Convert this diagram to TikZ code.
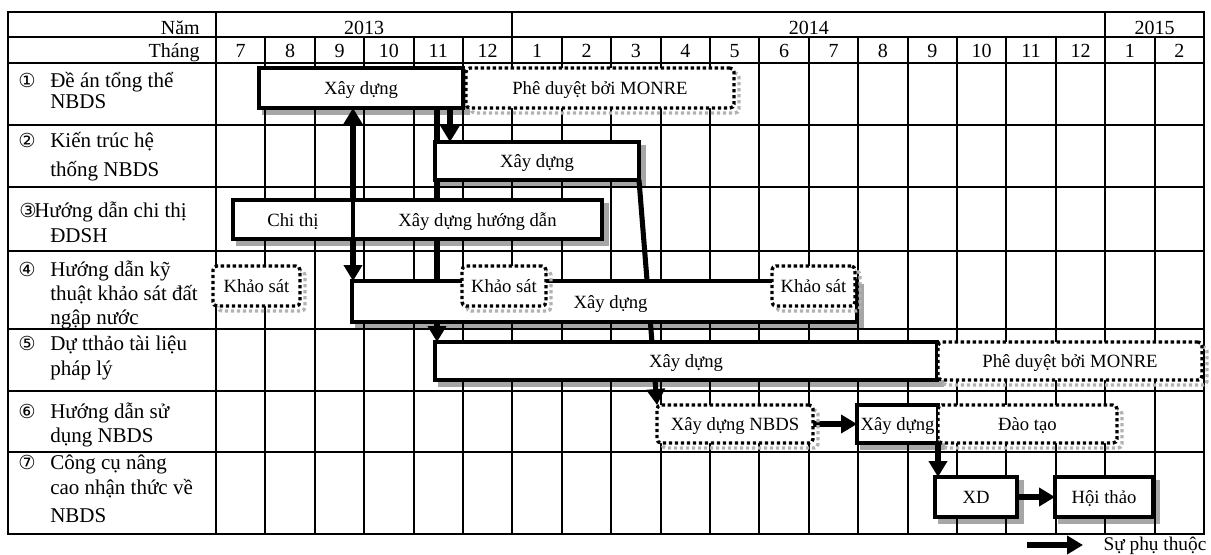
\documentclass[tikz,border=0pt]{standalone}
\usepackage{fontspec}
\setmainfont{Liberation Serif}
\newfontfamily\circfont{DejaVu Sans}
\usetikzlibrary{arrows.meta,shadows}
\def\pxu{*0.75pt}
\pgfdeclarelayer{shadowlayer}
\pgfdeclarelayer{gridlayer}
\pgfdeclarelayer{arrowlayer}
\pgfsetlayers{shadowlayer,gridlayer,arrowlayer,main}
\tikzset{
  gridline/.style={line width=1.5pt, draw=black},
  hdr/.style={font=\fontsize{15}{18}\selectfont, inner sep=0pt},
  lbl/.style={font=\fontsize{15.75}{19}\selectfont, inner sep=0pt, anchor=base west},
  circ/.style={font=\circfont\fontsize{14.5}{16}\selectfont, inner sep=0pt, anchor=base},
  barbase/.style={inner sep=0pt, outer sep=0pt, font=\fontsize{14}{16}\selectfont,
    text height=12.5pt, text depth=2.7pt, fill=white},
  solidbar/.style={barbase, draw=black, line width=2.5pt},
  dotbar/.style={barbase, draw=black, line width=2.5pt, dash pattern=on 2.5pt off 2pt,
    rounded corners=3pt,
    general shadow={draw=gray!60, fill=none, line width=2.5pt, dash pattern=on 2.5pt off 2pt,
      shadow xshift=3.75pt, shadow yshift=-3.75pt}},
  solidshadow/.style={fill=gray!70, draw=gray!70, line width=2.5pt},
  dep/.style={line width=3.8pt, -{Triangle[length=12pt,width=13.5pt]}},
  dep2/.style={line width=3.8pt, {Triangle[length=12pt,width=13.5pt]}-{Triangle[length=12pt,width=13.5pt]}},
  lgd/.style={font=\fontsize{14.5}{17}\selectfont, inner sep=1pt, fill=white},
}
\begin{document}
\begin{tikzpicture}[x=0.75pt,y=-0.75pt]
\useasboundingbox (0,0) rectangle (1211,554);
% ---------- table ----------
\begin{pgfonlayer}{gridlayer}
  \draw[gridline] (8,12) rectangle (1204,534);
  \foreach \yy in {37,63,125,187,251,329,391,452} \draw[gridline] (8,\yy) -- (1204,\yy);
  \draw[gridline] (216,12) -- (216,534);
  \foreach \i in {1,...,19} \draw[gridline] ({216+49.4*\i},37) -- ({216+49.4*\i},534);
  \draw[gridline] (512.4,12) -- (512.4,37);
  \draw[gridline] (1105.2,12) -- (1105.2,37);
\end{pgfonlayer}
% ---------- header ----------
\node[hdr, anchor=base east] (hnam) at (200,34) {Năm};
\node[hdr, anchor=base east] (hthang) at (200,57) {Tháng};
\node[hdr, anchor=base] (y13) at (364,34) {2013};
\node[hdr, anchor=base] (y14) at (808.8,34) {2014};
\node[hdr, anchor=base] (y15) at (1154.6,34) {2015};
\foreach \m [count=\i] in {7,8,9,10,11,12,1,2,3,4,5,6,7,8,9,10,11,12,1,2}
  \node[hdr, anchor=base] (m\i) at ({216+49.4*(\i-0.5)},57) {\m};
% ---------- row labels ----------
\node[circ] (c1) at (27,87) {①};
\node[lbl] (l1a) at (50,87) {Đề án tổng thể};
\node[lbl] (l1b) at (50,108) {NBDS};
\node[circ] (c2) at (27,147) {②};
\node[lbl] (l2a) at (50,147) {Kiến trúc hệ};
\node[lbl] (l2b) at (50,176) {thống NBDS};
\node[circ] (c3) at (28,217) {③};
\node[lbl] (l3a) at (34,217) {Hướng dẫn chi thị};
\node[lbl] (l3b) at (50,242) {ĐDSH};
\node[circ] (c4) at (27,276) {④};
\node[lbl] (l4a) at (50,276) {Hướng dẫn kỹ};
\node[lbl] (l4b) at (50,300) {thuật khảo sát đất};
\node[lbl] (l4c) at (50,324) {ngập nước};
\node[circ] (c5) at (27,350) {⑤};
\node[lbl] (l5a) at (50,350) {Dự tthảo tài liệu};
\node[lbl] (l5b) at (50,375) {pháp lý};
\node[circ] (c6) at (27,418) {⑥};
\node[lbl] (l6a) at (50,418) {Hướng dẫn sử};
\node[lbl] (l6b) at (50,442) {dụng NBDS};
\node[circ] (c7) at (27,469) {⑦};
\node[lbl] (l7a) at (50,469) {Công cụ nâng};
\node[lbl] (l7b) at (50,494) {cao nhận thức về};
\node[lbl] (l7c) at (50,522) {NBDS};
% ---------- bars ----------
\node[solidbar, minimum width=204\pxu, minimum height=40\pxu] (b1x) at (361,88) {Xây dựng};
\node[dotbar, minimum width=268\pxu, minimum height=40\pxu] (b1p) at (600,88) {Phê duyệt bởi MONRE};
\node[solidbar, minimum width=204\pxu, minimum height=38\pxu] (b2x) at (537,161) {Xây dựng};
\node[solidbar, minimum width=120\pxu, minimum height=39\pxu] (b3c) at (293,219.5) {Chi thị};
\node[solidbar, minimum width=249\pxu, minimum height=39\pxu] (b3x) at (477.5,219.5) {Xây dựng hướng dẫn};
\node[dotbar, minimum width=87\pxu, minimum height=40\pxu] (b4k1) at (256.5,286) {Khảo sát};
\node[solidbar, minimum width=505\pxu, minimum height=41\pxu] (b4x) at (604.5,301.5) {\hspace*{9pt}Xây dựng};
\node[dotbar, minimum width=84\pxu, minimum height=40\pxu] (b4k2) at (504,286) {Khảo sát};
\node[dotbar, minimum width=83\pxu, minimum height=40\pxu] (b4k3) at (813.5,286) {Khảo sát};
\node[solidbar, minimum width=502\pxu, minimum height=38\pxu] (b5x) at (686,361) {Xây dựng};
\node[dotbar, minimum width=264\pxu, minimum height=38\pxu] (b5p) at (1070,361) {Phê duyệt bởi MONRE};
\node[dotbar, minimum width=156\pxu, minimum height=38\pxu] (b6n) at (735,424) {Xây dựng NBDS};
\node[solidbar, minimum width=81\pxu, minimum height=38\pxu] (b6x) at (897.5,424) {Xây dựng};
\node[dotbar, minimum width=179\pxu, minimum height=38\pxu] (b6d) at (1027.5,424) {Đào tạo};
\node[solidbar, minimum width=82\pxu, minimum height=40\pxu] (b7x) at (976,497) {XD};
\node[solidbar, minimum width=98\pxu, minimum height=40\pxu] (b7h) at (1104,497) {Hội thảo};
% ---------- shadows of solid bars ----------
\begin{pgfonlayer}{shadowlayer}
  \foreach \b in {b1x,b2x,b3c,b3x,b4x,b5x,b6x,b7x,b7h}
    \path[solidshadow] ([shift={(5,5)}]\b.north west) rectangle ([shift={(5,5)}]\b.south east);
\end{pgfonlayer}
% ---------- dependencies ----------
\begin{pgfonlayer}{arrowlayer}
  \coordinate (xa1) at ([xshift=15\pxu]b2x.north west);
  \coordinate (xa2) at ([xshift=2\pxu]b5x.north west);
  \draw[dep] (xa1 |- b1x.south) -- (xa1);
  \draw[dep] (xa2 |- b1x.south) -- (xa2);
  \draw[dep2] (b3x.north west |- b1x.south) -- (b3x.north west |- b4x.north);
  \draw[dep] (b2x.south east) -- (b6n.north west);
  \draw[dep] (b6n.east) -- (b6x.west);
  \draw[dep] (b6x.south east) -- (b6x.south east |- b7x.north);
  \draw[dep] (b7x.east) -- (b7h.west);
\end{pgfonlayer}
% ---------- legend ----------
\coordinate (lgs) at (1027,545);
\coordinate (lge) at (1083,545);
\draw[dep] (lgs) -- (lge);
\node[lgd, anchor=base east] (lgt) at (1208,550) {Sự phụ thuộc};
\end{tikzpicture}
\end{document}
